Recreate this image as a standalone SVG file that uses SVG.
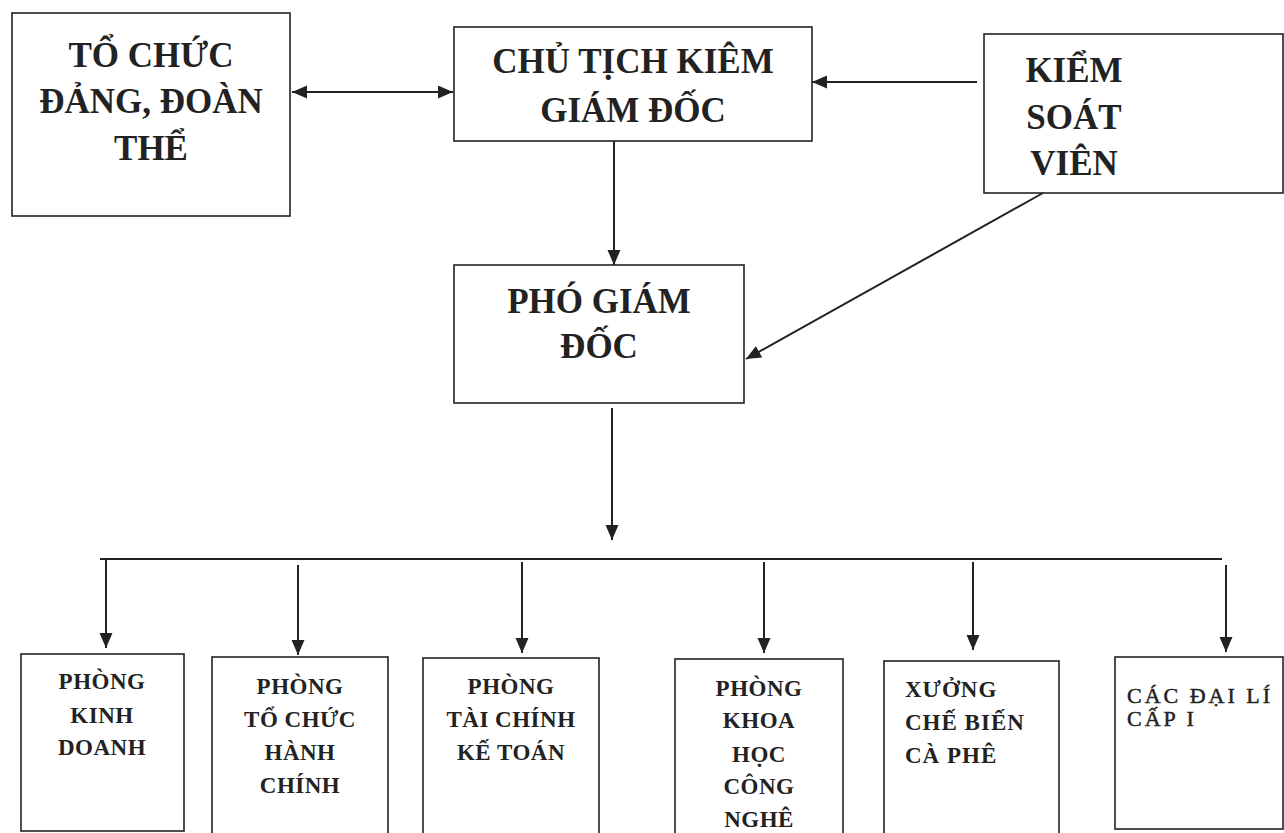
<svg xmlns="http://www.w3.org/2000/svg" width="1284" height="833" viewBox="0 0 1284 833">
<style>
.box{fill:#fff;stroke:#222;stroke-width:1.6}
.big{font-family:"Liberation Serif","Times New Roman",serif;font-weight:bold;font-size:35px;fill:#222;text-anchor:middle}
.sm{font-family:"Liberation Serif","Times New Roman",serif;font-weight:bold;font-size:23px;fill:#222;text-anchor:middle;letter-spacing:0.5px}
.sml{font-family:"Liberation Serif","Times New Roman",serif;font-weight:bold;font-size:23px;fill:#222;letter-spacing:1px}
.sml2{font-family:"Liberation Serif","Times New Roman",serif;font-size:22px;fill:#222;stroke:#222;stroke-width:0.5;letter-spacing:3px}
.ln{stroke:#222;stroke-width:2;fill:none}
</style>
<defs>
<marker id="ah" markerUnits="userSpaceOnUse" markerWidth="16" markerHeight="14" refX="15" refY="6.5" orient="auto-start-reverse">
<path d="M0,0 L15,6.5 L0,13 z" fill="#222"/>
</marker>
</defs>

<g id="node-to-chuc-dang">
<rect class="box" x="12" y="13" width="278" height="203"/>
<text class="big" x="151" y="67">TỔ CHỨC</text>
<text class="big" x="151" y="113">ĐẢNG, ĐOÀN</text>
<text class="big" x="151" y="160">THỂ</text>
</g>

<g id="node-chu-tich">
<rect class="box" x="454" y="27" width="358" height="114"/>
<text class="big" x="633" y="73">CHỦ TỊCH KIÊM</text>
<text class="big" x="633" y="122">GIÁM ĐỐC</text>
</g>

<g id="node-kiem-soat">
<rect class="box" x="984" y="34" width="299" height="159"/>
<text class="big" x="1074" y="82">KIỂM</text>
<text class="big" x="1074" y="129">SOÁT</text>
<text class="big" x="1074" y="175">VIÊN</text>
</g>

<g id="node-pho-giam-doc">
<rect class="box" x="454" y="265" width="290" height="138"/>
<text class="big" x="599" y="313">PHÓ GIÁM</text>
<text class="big" x="599" y="358">ĐỐC</text>
</g>

<g id="node-kinh-doanh">
<rect class="box" x="21" y="654" width="163" height="177"/>
<text class="sm" x="102" y="689">PHÒNG</text>
<text class="sm" x="102" y="723">KINH</text>
<text class="sm" x="102" y="755">DOANH</text>
</g>

<g id="node-to-chuc-hanh-chinh">
<rect class="box" x="212" y="657" width="176" height="190"/>
<text class="sm" x="300" y="694">PHÒNG</text>
<text class="sm" x="300" y="727">TỔ CHỨC</text>
<text class="sm" x="300" y="760">HÀNH</text>
<text class="sm" x="300" y="793">CHÍNH</text>
</g>

<g id="node-tai-chinh">
<rect class="box" x="423" y="658" width="176" height="190"/>
<text class="sm" x="511" y="694">PHÒNG</text>
<text class="sm" x="511" y="727">TÀI CHÍNH</text>
<text class="sm" x="511" y="760">KẾ TOÁN</text>
</g>

<g id="node-khoa-hoc">
<rect class="box" x="675" y="659" width="168" height="190"/>
<text class="sm" x="759" y="696">PHÒNG</text>
<text class="sm" x="759" y="728">KHOA</text>
<text class="sm" x="759" y="762">HỌC</text>
<text class="sm" x="759" y="794">CÔNG</text>
<text class="sm" x="759" y="827">NGHÊ</text>
</g>

<g id="node-xuong">
<rect class="box" x="884" y="661" width="175" height="190"/>
<text class="sml" x="905" y="697">XƯỞNG</text>
<text class="sml" x="905" y="730">CHẾ BIẾN</text>
<text class="sml" x="905" y="763">CÀ PHÊ</text>
</g>

<g id="node-dai-li">
<rect class="box" x="1115" y="657" width="168" height="172"/>
<text class="sml2" x="1127" y="703">CÁC ĐẠI LÍ</text>
<text class="sml2" x="1127" y="726">CẤP I</text>
</g>

<g id="connectors">
<line class="ln" x1="292" y1="92" x2="453" y2="92" marker-start="url(#ah)" marker-end="url(#ah)"/>
<line class="ln" x1="977" y1="82" x2="812" y2="82" marker-end="url(#ah)"/>
<line class="ln" x1="614" y1="141" x2="614" y2="265" marker-end="url(#ah)"/>
<line class="ln" x1="1043" y1="193" x2="746" y2="359" marker-end="url(#ah)"/>
<line class="ln" x1="612" y1="408" x2="612" y2="540" marker-end="url(#ah)"/>
<line class="ln" x1="100" y1="559" x2="1222" y2="559"/>
<line class="ln" x1="106" y1="559" x2="106" y2="648" marker-end="url(#ah)"/>
<line class="ln" x1="298" y1="565" x2="298" y2="655" marker-end="url(#ah)"/>
<line class="ln" x1="522" y1="562" x2="522" y2="653" marker-end="url(#ah)"/>
<line class="ln" x1="764" y1="562" x2="764" y2="653" marker-end="url(#ah)"/>
<line class="ln" x1="973" y1="562" x2="973" y2="650" marker-end="url(#ah)"/>
<line class="ln" x1="1226" y1="565" x2="1226" y2="652" marker-end="url(#ah)"/>
</g>
</svg>
